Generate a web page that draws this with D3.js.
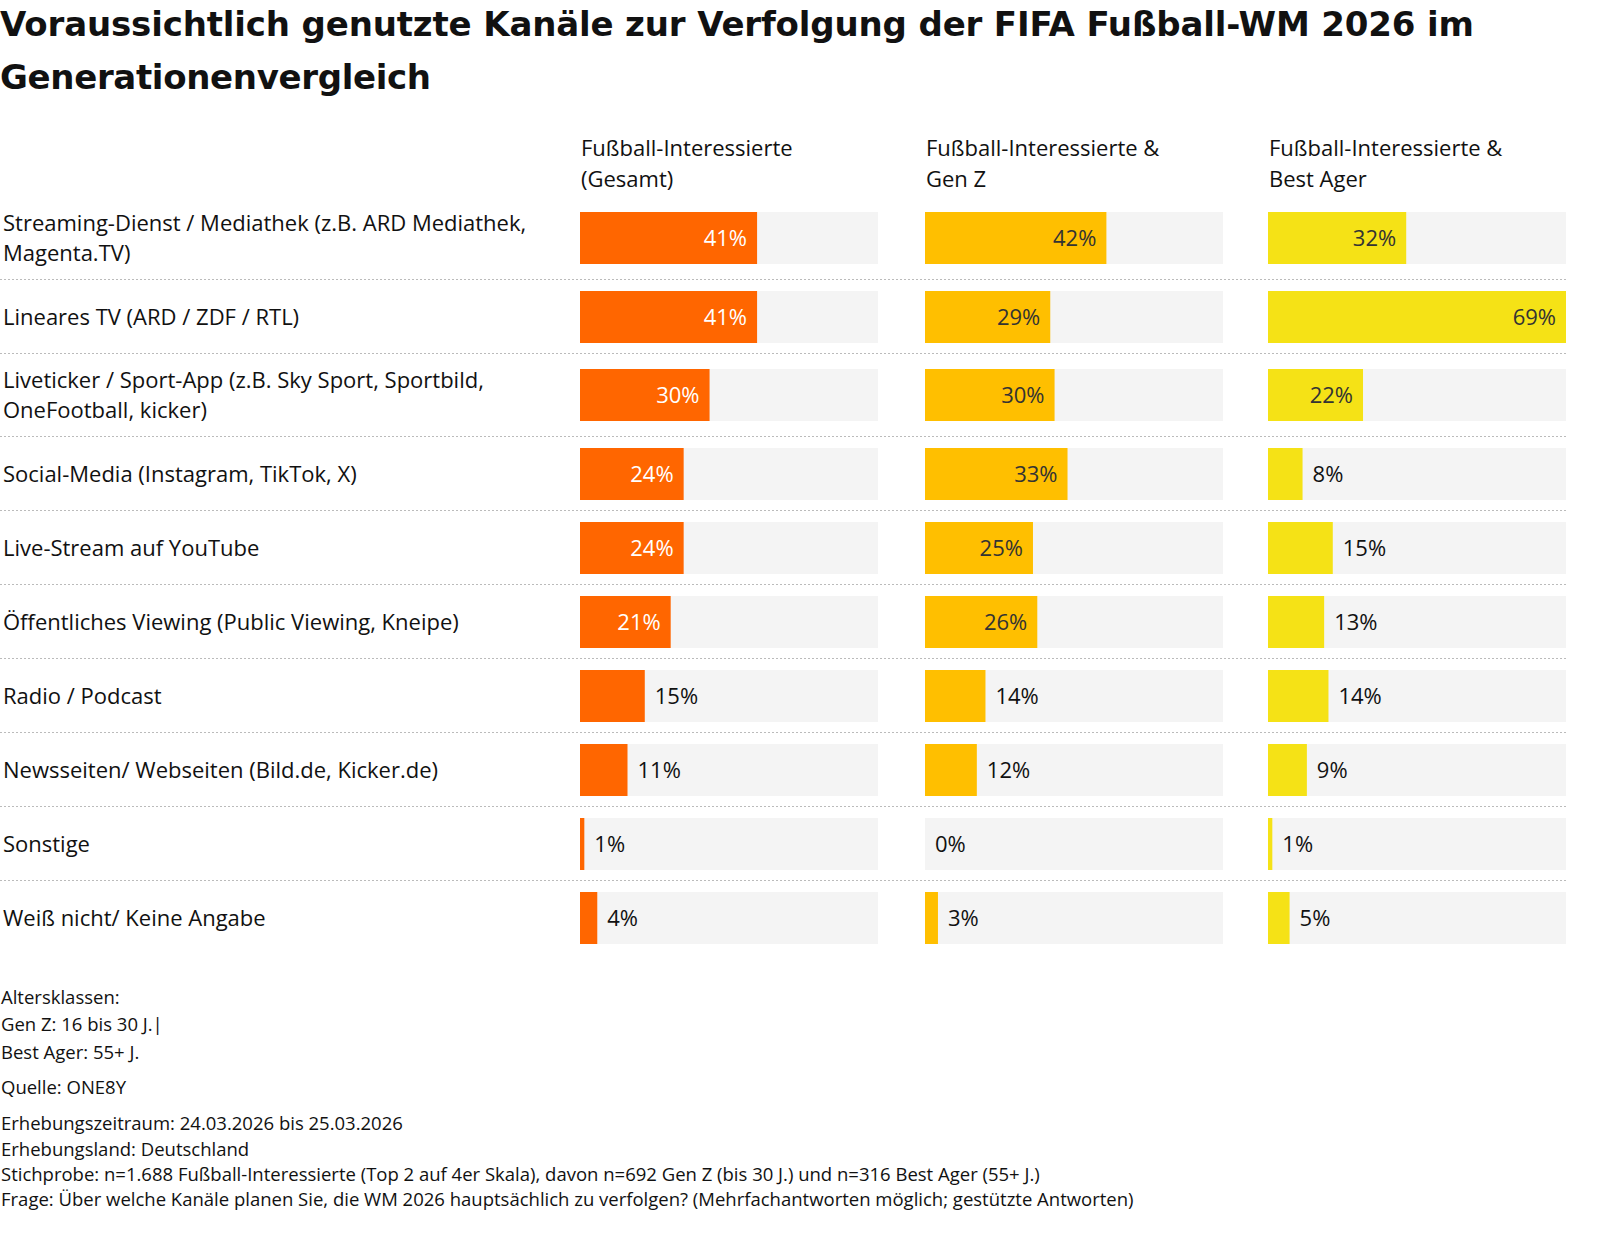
<!DOCTYPE html>
<html><head><meta charset="utf-8">
<script src="https://cdn.jsdelivr.net/npm/d3@7"></script>
<style>body{margin:0;background:#fff;font-family:"Open Sans",Roboto,sans-serif;}</style>
</head><body>
<svg id="chart" width="1600" height="1242"></svg>
<script>
// data
var categories = [
  ["Streaming-Dienst / Mediathek (z.B. ARD Mediathek,", "Magenta.TV)"],
  ["Lineares TV (ARD / ZDF / RTL)"],
  ["Liveticker / Sport-App (z.B. Sky Sport, Sportbild,", "OneFootball, kicker)"],
  ["Social-Media (Instagram, TikTok, X)"],
  ["Live-Stream auf YouTube"],
  ["Öffentliches Viewing (Public Viewing, Kneipe)"],
  ["Radio / Podcast"],
  ["Newsseiten/ Webseiten (Bild.de, Kicker.de)"],
  ["Sonstige"],
  ["Weiß nicht/ Keine Angabe"]
];
var gesamt = [41, 41, 30, 24, 24, 21, 15, 11, 1, 4];
var genZ = [42, 29, 30, 33, 25, 26, 14, 12, 0, 3];
var bestAger = [32, 69, 22, 8, 15, 13, 14, 9, 1, 5];
var seriesNames = [["Fußball-Interessierte", "(Gesamt)"], ["Fußball-Interessierte &", "Gen Z"], ["Fußball-Interessierte &", "Best Ager"]];
var colors = ["#ff6600", "#ffbf00", "#f5e216"];
var insideText = ["#ffffff", "#333333", "#333333"];
var footer = [
  ["Altersklassen:", 998], ["Gen Z: 16 bis 30 J.|", 1025], ["Best Ager: 55+ J.", 1053],
  ["Quelle: ONE8Y", 1088],
  ["Erhebungszeitraum: 24.03.2026 bis 25.03.2026", 1124], ["Erhebungsland: Deutschland", 1150],
  ["Stichprobe: n=1.688 Fußball-Interessierte (Top 2 auf 4er Skala), davon n=692 Gen Z (bis 30 J.) und n=316 Best Ager (55+ J.)", 1175],
  ["Frage: Über welche Kanäle planen Sie, die WM 2026 hauptsächlich zu verfolgen? (Mehrfachantworten möglich; gestützte Antworten)", 1200]
];
var series = [gesamt, genZ, bestAger];

var svg = d3.select("#chart");
var txt = "#111";

svg.append("text").attr("x", 0).attr("y", 36).attr("font-size", 34).attr("font-weight", 700)
  .attr("font-family", "DejaVu Sans").attr("fill", txt).attr("textLength", 1474)
  .text("Voraussichtlich genutzte Kanäle zur Verfolgung der FIFA Fußball-WM 2026 im");
svg.append("text").attr("x", 0).attr("y", 89).attr("font-size", 34).attr("font-weight", 700)
  .attr("font-family", "DejaVu Sans").attr("fill", txt).attr("textLength", 431)
  .text("Generationenvergleich");

// row layout
var tops = [], y = 212;
categories.forEach(function(c, i) {
  if (i > 0) y += (c.length > 1 ? 15 : 11);
  tops.push(y);
  y += 52 + (c.length > 1 ? 16 : 11);
});
var barH = 52;

var colX = [580, 925, 1268], colW = 298;
var x = d3.scaleLinear().domain([0, 69]).range([0, colW]);

seriesNames.forEach(function(n, j) {
  n.forEach(function(line, k) {
    svg.append("text").attr("x", colX[j] + 1).attr("y", 156 + k * 31).attr("font-size", 22).attr("fill", txt).text(line);
  });
});

categories.forEach(function(c, i) {
  var cy = tops[i] + barH / 2;
  c.forEach(function(line, k) {
    svg.append("text").attr("x", 3).attr("y", cy + 8 + (c.length > 1 ? (k - 0.5) * 30 : 0))
      .attr("font-size", 22).attr("fill", txt).text(line);
  });
  if (i < categories.length - 1) {
    var ly = tops[i] + barH + (c.length > 1 ? 16 : 11) - 0.5;
    svg.append("line").attr("x1", 0).attr("x2", 1566).attr("y1", ly).attr("y2", ly)
      .attr("stroke", "#bbb").attr("stroke-dasharray", "2,2");
  }
});

series.forEach(function(vals, j) {
  var g = svg.append("g").attr("transform", "translate(" + colX[j] + ",0)");
  g.selectAll("rect.bg").data(vals).enter().append("rect")
    .attr("x", 0).attr("y", function(d, i) { return tops[i]; })
    .attr("width", colW).attr("height", barH).attr("fill", "#f4f4f4");
  g.selectAll("rect.bar").data(vals).enter().append("rect")
    .attr("x", 0).attr("y", function(d, i) { return tops[i]; })
    .attr("width", function(d) { return x(d); }).attr("height", barH).attr("fill", colors[j]);
  g.selectAll("text.v").data(vals).enter().append("text")
    .attr("x", function(d) { return d >= 18 ? x(d) - 10 : x(d) + 10; })
    .attr("y", function(d, i) { return tops[i] + barH / 2 + 8; })
    .attr("text-anchor", function(d) { return d >= 18 ? "end" : "start"; })
    .attr("font-size", 22)
    .attr("fill", function(d) { return d >= 18 ? insideText[j] : txt; })
    .text(function(d) { return d + "%"; });
});

footer.forEach(function(f) {
  svg.append("text").attr("x", 1).attr("y", f[1] + 6).attr("font-size", 18.5).attr("fill", txt).text(f[0]);
});
</script>
</body></html>
